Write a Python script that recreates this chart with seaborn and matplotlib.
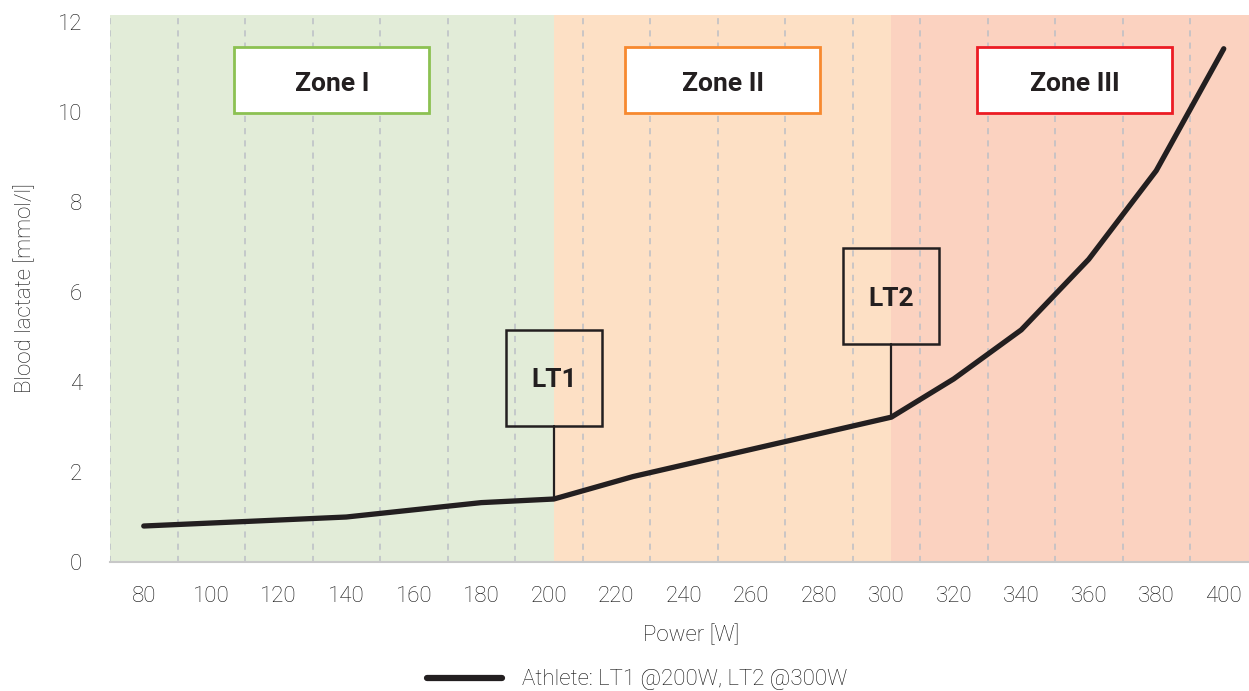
import matplotlib
matplotlib.use('Agg')
import matplotlib.pyplot as plt
import seaborn as sns
import pandas as pd
import numpy as np
from matplotlib.patches import Rectangle
from matplotlib.lines import Line2D

# data
power = [80, 140, 180, 201.5, 225, 301.5, 320, 340, 360, 380, 400]
lactate = [0.8, 1.0, 1.32, 1.4, 1.9, 3.22, 4.07, 5.16, 6.73, 8.7, 11.41]
series_name = 'Athlete: LT1 @200W, LT2 @300W'

zone_edges = [70, 201.5, 301.5, 410]
zone_names = ['Zone I', 'Zone II', 'Zone III']
zone_fill = ['#e2ecd8', '#fde0c5', '#fbd2c0']
zone_border = ['#8cc152', '#f7892f', '#ec1c24']

lt_power = [201.5, 301.5]
lt_names = ['LT1', 'LT2']

x_ticks = list(range(80, 401, 20))
y_ticks = [0, 2, 4, 6, 8, 10, 12]

sns.set_theme(style='white')
plt.rcParams['font.family'] = ['Roboto', 'DejaVu Sans']
ink = '#231f20'
txt = '#111111'

fig = plt.figure(figsize=(12.49, 6.91), dpi=100)
ax = fig.add_axes([110/1249, 129/691, 1147.5/1249, 547/691])

# zone backgrounds
for i in range(len(zone_names)):
    ax.axvspan(zone_edges[i], zone_edges[i+1], color=zone_fill[i], lw=0, zorder=0)

# dashed vertical grid
for gx in range(70, 411, 20):
    ax.axvline(gx, color='#bcbfc6', lw=1.1, ls=(0, (4, 4)), zorder=1)

df = pd.DataFrame({'Power': power, 'Lactate': lactate})
sns.lineplot(data=df, x='Power', y='Lactate', color=ink, lw=3.8, ax=ax,
             legend=False, zorder=5)

# zone label boxes
bw, bh, bcy = 57.8, 1.47, 10.71
for i, name in enumerate(zone_names):
    cx = (zone_edges[i] + zone_edges[i+1]) / 2
    ax.add_patch(Rectangle((cx - bw/2, bcy - bh/2), bw, bh, facecolor='white',
                           edgecolor=zone_border[i], lw=2, zorder=6))
    ax.text(cx, bcy - 0.09, name, ha='center', va='center', fontsize=19,
            fontweight='bold', color=ink, zorder=7)

# threshold markers
lw_, lh_, gap = 28.4, 2.13, 1.62
for p, name in zip(lt_power, lt_names):
    y0 = np.interp(p, power, lactate)
    ax.plot([p, p], [y0, y0 + gap], color=ink, lw=1.6, zorder=6)
    ax.add_patch(Rectangle((p - lw_/2, y0 + gap), lw_, lh_, facecolor='none',
                           edgecolor=ink, lw=1.8, zorder=6))
    ax.text(p, y0 + gap + lh_/2 - 0.05, name, ha='center', va='center', fontsize=19,
            fontweight='bold', color=ink, zorder=7)

ax.set_xlim(70, 410)
ax.set_ylim(0, 12.16)
ax.set_xticks(x_ticks)
ax.set_yticks(y_ticks)
ax.tick_params(axis='x', length=0, pad=17, labelsize=16, labelcolor=txt)
ax.tick_params(axis='y', length=0, pad=20, labelsize=16, labelcolor=txt)
for lab in ax.get_xticklabels() + ax.get_yticklabels():
    lab.set_fontweight('light')

for s in ['top', 'right', 'left']:
    ax.spines[s].set_visible(False)
ax.spines['bottom'].set_color('#c8c8c8')
ax.spines['bottom'].set_linewidth(1.5)

ax.set_xlabel('Power [W]', fontsize=16, color=txt, fontweight='light')
ax.set_ylabel('Blood lactate [mmol/l]', fontsize=16, color=txt, fontweight='light')
ax.xaxis.set_label_coords(0.506, -0.115)
ax.yaxis.set_label_coords(-0.064, 0.5)

handle = Line2D([], [], color=ink, lw=4.5)
leg = fig.legend([handle], [series_name], loc='center',
                 bbox_to_anchor=(637/1249, 1 - 680/691), frameon=False,
                 fontsize=16, handlelength=3.4, handletextpad=0.9)
for t in leg.get_texts():
    t.set_color(txt)
    t.set_fontweight('light')

fig.savefig('out.png', dpi=100)
